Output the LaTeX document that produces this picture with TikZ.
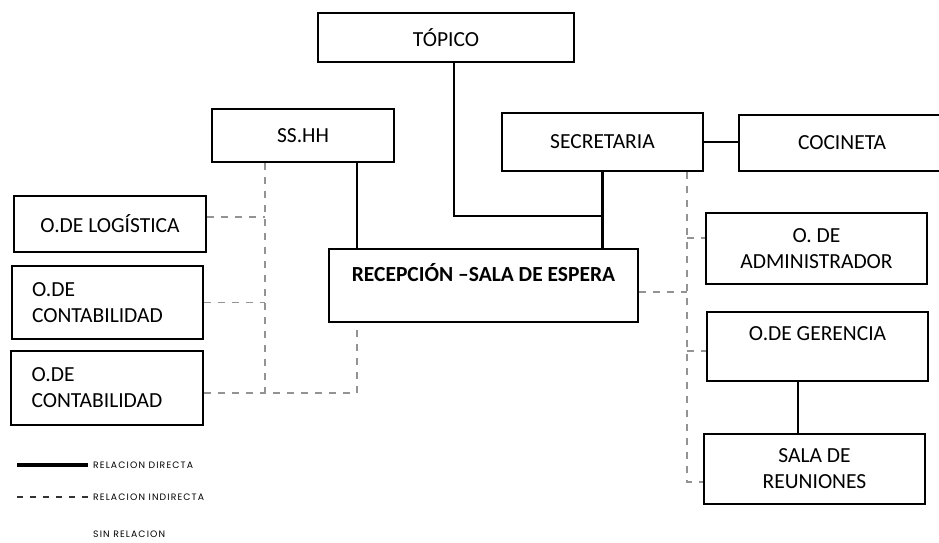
\documentclass[tikz,border=0pt]{standalone}
\usepackage{fontspec}
\setmainfont{Carlito}
\newfontfamily\leyfont[LetterSpace=12]{Poppins}

\begin{document}
\begin{tikzpicture}[x=1pt, y=-1pt,
  caja/.style={draw, line width=2.4pt, align=center, inner sep=0pt, font=\fontsize{21.5}{26}\selectfont},
  dir/.style={line width=2.4pt},
  ind/.style={gray!85, line width=1.4pt, dash pattern=on 7pt off 7pt},
  ley/.style={anchor=west, inner sep=5pt, font=\leyfont\fontsize{9.3}{11}\selectfont}]
\clip (0,0) rectangle (939,542);
\node[caja, minimum width=256, minimum height=49] (topico) at (446,37.5) {TÓPICO};
\node[caja, minimum width=182, minimum height=53] (sshh) at (303,135.5) {SS.HH};
\node[caja, minimum width=201, minimum height=58] (secre) at (602.5,142) {SECRETARIA};
\node[caja, minimum width=206, minimum height=56] (cocina) at (842,143) {COCINETA};
\node[caja, minimum width=309, minimum height=73, font=\fontsize{21.5}{26}\selectfont\bfseries] (rec) at (483.5,285.5) {RECEPCIÓN –SALA DE ESPERA\\\mbox{}};
\node[caja, minimum width=192, minimum height=56] (logis) at (110,224) {O.DE LOGÍSTICA};
\node[caja, minimum width=191, minimum height=73, text width=151, align=left] (conta1) at (107.5,302.5) {O.DE\\CONTABILIDAD};
\node[caja, minimum width=192, minimum height=74, text width=151, align=left] (conta2) at (107,388) {O.DE\\CONTABILIDAD};
\node[caja, minimum width=221, minimum height=71] (admin) at (816.5,248.5) {O. DE\\ADMINISTRADOR};
\node[caja, minimum width=221, minimum height=69] (geren) at (817.5,346.5) {O.DE GERENCIA\\\mbox{}};
\node[caja, minimum width=221, minimum height=70] (reun) at (814.5,469) {SALA DE\\REUNIONES};
\coordinate (t) at (454,216);
\coordinate (s) at (357,393);
\coordinate (l) at (265,393);
\coordinate (l1) at (265,217);
\coordinate (r0) at (687,482);
\coordinate (r1) at (687,238);
\coordinate (r2) at (687,292);
\coordinate (r3) at (687,351);
\coordinate (g) at (798,400);
\draw[dir] (topico.south -| t) -- (t) -- (t -| secre.south);
\draw[dir] (secre.south) -- (secre.south |- rec.north);
\draw[dir] (sshh.south -| s) -- (rec.north -| s);
\draw[dir] (secre.east) -- (secre.east -| cocina.west);
\draw[dir] (geren.south -| g) -- (reun.north -| g);
\draw[ind] (sshh.south -| l) -- (l) -- (s) -- (rec.south -| s);
\draw[ind] (l1 -| logis.east) -- (l1);
\draw[ind] (conta1.east) -- (conta1.east -| l);
\draw[ind] (l -| conta2.east) -- (l);
\draw[ind] (secre.south -| r0) -- (r0) -- (r0 -| reun.west);
\draw[ind] (r1) -- (r1 -| admin.west);
\draw[ind] (r2 -| rec.east) -- (r2);
\draw[ind] (r3) -- (r3 -| geren.west);
\node[ley] (ldir) at (88,465) {RELACION DIRECTA};
\node[ley] (lind) at (88,497) {RELACION INDIRECTA};
\node[ley] (lsin) at (88,534) {SIN RELACION};
\coordinate (ld) at (17,465);
\coordinate (li) at (17,497);
\draw[line width=3.5pt] (ld) -- (ldir.west);
\draw[gray!40!black, line width=1.2pt, dash pattern=on 6pt off 7pt] (li) -- (lind.west);
\end{tikzpicture}
\end{document}
